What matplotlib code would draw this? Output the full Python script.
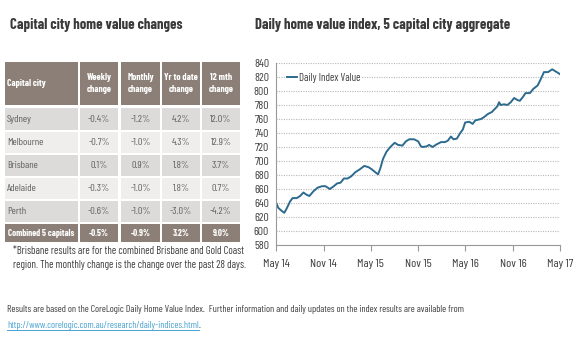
import matplotlib
matplotlib.use("Agg")
import matplotlib.pyplot as plt
from matplotlib.patches import Rectangle
from matplotlib import font_manager
import datetime as dt

# ---------------- data ----------------
table_cols = ["Capital city", "Weekly\nchange", "Monthly\nchange", "Yr to date\nchange", "12 mth\nchange"]
cities = ["Sydney", "Melbourne", "Brisbane", "Adelaide", "Perth"]
weekly = ["-0.4%", "-0.7%", "0.1%", "-0.3%", "-0.6%"]
monthly = ["-1.2%", "-1.0%", "0.9%", "-1.0%", "-1.0%"]
ytd = ["4.2%", "4.3%", "1.8%", "1.8%", "-3.0%"]
twelve = ["12.0%", "12.9%", "3.7%", "0.7%", "-4.2%"]
combined = ["Combined 5 capitals", "-0.5%", "-0.9%", "3.2%", "9.0%"]

dates = ["2014-05-01", "2014-05-10", "2014-05-22", "2014-06-02", "2014-06-11", "2014-06-24",
         "2014-07-04", "2014-07-20", "2014-08-02", "2014-08-15", "2014-08-26", "2014-09-07",
         "2014-09-23", "2014-10-09", "2014-10-26", "2014-11-08", "2014-11-25", "2014-12-10",
         "2014-12-23", "2015-01-05", "2015-01-18", "2015-02-01", "2015-02-15", "2015-03-03",
         "2015-03-20", "2015-04-07", "2015-04-24", "2015-05-06", "2015-05-19", "2015-05-30",
         "2015-06-08", "2015-06-18", "2015-07-01", "2015-07-16", "2015-08-02", "2015-08-15",
         "2015-09-01", "2015-09-14", "2015-09-27", "2015-10-16", "2015-11-01", "2015-11-11",
         "2015-11-19", "2015-12-04", "2015-12-13", "2015-12-26", "2016-01-12", "2016-01-28",
         "2016-02-12", "2016-02-23", "2016-03-06", "2016-03-16", "2016-03-29", "2016-04-11",
         "2016-04-21", "2016-04-30", "2016-05-16", "2016-05-29", "2016-06-08", "2016-06-30",
         "2016-07-13", "2016-07-26", "2016-08-11", "2016-08-24", "2016-09-01", "2016-09-08",
         "2016-09-14", "2016-09-27", "2016-10-10", "2016-10-23", "2016-11-05", "2016-11-18",
         "2016-11-27", "2016-12-10", "2016-12-19", "2017-01-05", "2017-01-18", "2017-02-04",
         "2017-02-17", "2017-02-28", "2017-03-16", "2017-04-01", "2017-04-14", "2017-04-23",
         "2017-05-01"]
index_values = [641, 633, 629, 626, 632, 642,
                647, 647, 650, 655, 652, 650,
                657, 662, 664, 664, 660, 664,
                668, 669, 675, 675, 678, 684,
                688, 693, 691, 688, 684, 681,
                690, 703, 713, 720, 726, 723,
                722, 728, 731, 731, 728, 721,
                720, 721, 723, 720, 724, 727,
                727, 729, 735, 731, 732, 740,
                745, 755, 756, 753, 758, 760,
                763, 767, 770, 775, 778, 784,
                780, 781, 780, 784, 790, 787,
                786, 792, 797, 797, 803, 808,
                818, 827, 827, 831, 828, 826,
                824]
xtick_dates = ["2014-05-01", "2014-11-01", "2015-05-01", "2015-11-01", "2016-05-01", "2016-11-01", "2017-05-01"]
xtick_labels = ["May 14", "Nov 14", "May 15", "Nov 15", "May 16", "Nov 16", "May 17"]
yticks = list(range(580, 841, 20))

left_title = "Capital city home value changes"
right_title = "Daily home value index, 5 capital city aggregate"
legend_label = "Daily Index Value"
footnote = ["*Brisbane results are for the combined Brisbane and Gold Coast",
            "region. The monthly change is the change over the past 28 days."]
bottom_text = "Results are based on the CoreLogic Daily Home Value Index.  Further information and daily updates on the index results are available from"
link_text = "http://www.corelogic.com.au/research/daily-indices.html"

# ---------------- fonts ----------------
names = {f.name for f in font_manager.fontManager.ttflist}
FAM = "Liberation Sans"
for cand in ["Barlow Condensed", "Roboto Condensed", "Archivo Narrow", "Asap Condensed"]:
    if cand in names:
        FAM = cand
        break
plt.rcParams["font.family"] = [FAM, "DejaVu Sans"]

W, H = 580, 352
fig = plt.figure(figsize=(W / 100, H / 100), dpi=100)
fig.patch.set_facecolor("white")
renderer = fig.canvas.get_renderer()


def fit(t, target):
    """scale the font of text t so that its rendered width is target px; return size"""
    w = t.get_window_extent(renderer).width
    s = t.get_fontsize() * target / w
    t.set_fontsize(s)
    return s


ov = fig.add_axes([0, 0, 1, 1])
ov.set_xlim(0, W)
ov.set_ylim(H, 0)
ov.axis("off")

TXT = "#3f3f3f"
t = ov.text(10, 25, left_title, fontsize=12, fontweight="bold", color="#3a3a3a", va="center", ha="left")
fit(t, 172)
t = ov.text(255, 25, right_title, fontsize=12, fontweight="bold", color="#3a3a3a", va="center", ha="left")
fit(t, 254)

col_x = [(5, 78), (80, 118), (121, 160), (162, 200), (202, 240)]
header_y = (62, 105)
row_y = [(108, 130), (132, 153), (155, 176), (178, 199), (201, 222)]
comb_y = (224, 242)
HDR = "#8b7f77"
row_bg = ["#dddbda", "#efeeed", "#dddbda", "#efeeed", "#dddbda"]

probe = ov.text(0, -50, "Yr to date", fontsize=8, fontweight="bold")
hdr_size = fit(probe, 34)
probe.set_text("Sydney"); probe.set_fontweight("normal"); probe.set_fontsize(8)
cell_size = fit(probe, 25)
probe.set_text("Combined 5 capitals"); probe.set_fontweight("bold"); probe.set_fontsize(8)
comb_size = fit(probe, 67)
probe.remove()

for ci, (x0, x1) in enumerate(col_x):
    ov.add_patch(Rectangle((x0, header_y[0]), x1 - x0, header_y[1] - header_y[0], color=HDR, lw=0))
    ha = "left" if ci == 0 else "center"
    tx = x0 + 2 if ci == 0 else (x0 + x1) / 2
    ov.text(tx, (header_y[0] + header_y[1]) / 2, table_cols[ci], color="white", fontsize=hdr_size,
            fontweight="bold", ha=ha, va="center", linespacing=1.3)

cols_data = [cities, weekly, monthly, ytd, twelve]
for ri, (y0, y1) in enumerate(row_y):
    for ci, (x0, x1) in enumerate(col_x):
        ov.add_patch(Rectangle((x0, y0), x1 - x0, y1 - y0, color=row_bg[ri], lw=0))
        ha = "left" if ci == 0 else "center"
        tx = x0 + 2 if ci == 0 else (x0 + x1) / 2
        ov.text(tx, (y0 + y1) / 2, cols_data[ci][ri], color="#606060", fontsize=cell_size,
                ha=ha, va="center")

for ci, (x0, x1) in enumerate(col_x):
    ov.add_patch(Rectangle((x0, comb_y[0]), x1 - x0, comb_y[1] - comb_y[0], color=HDR, lw=0))
    ha = "left" if ci == 0 else "center"
    tx = x0 + 3 if ci == 0 else (x0 + x1) / 2
    ov.text(tx, (comb_y[0] + comb_y[1]) / 2, combined[ci], color="white", fontsize=comb_size,
            fontweight="bold", ha=ha, va="center")

t1 = ov.text(13, 251, footnote[0], fontsize=8.5, color=TXT, ha="left", va="center")
fs_foot = fit(t1, 233)
ov.text(13, 265, footnote[1], fontsize=fs_foot, color=TXT, ha="left", va="center")
tb = ov.text(7, 309, bottom_text, fontsize=8, color=TXT, ha="left", va="center")
fs_bot = fit(tb, 457)
lk = ov.text(7, 325, link_text, fontsize=fs_bot, color="#4aa3d0", ha="left", va="center")
bb = lk.get_window_extent(renderer).transformed(ov.transData.inverted())
ov.plot([bb.x0, bb.x1], [330, 330], color="#4aa3d0", lw=0.7)
ov.text(bb.x1, 325, ".", fontsize=fs_bot, color=TXT, ha="left", va="center")

probe = ov.text(0, -50, "May 14", fontsize=9)
xt_size = fit(probe, 27)
probe.set_text("840"); probe.set_fontsize(9)
yt_size = fit(probe, 15)
probe.set_text(legend_label); probe.set_fontsize(9)
lg_size = fit(probe, 62)
probe.remove()

# ---------------- line chart ----------------
ax = fig.add_axes([276 / W, 1 - 245 / H, (560 - 276) / W, (245 - 63) / H])
x = [dt.datetime.strptime(d, "%Y-%m-%d") for d in dates]
xt = [dt.datetime.strptime(d, "%Y-%m-%d") for d in xtick_dates]
ax.plot(x, index_values, color="#2d6a8e", lw=1.4, label=legend_label)
ax.set_xlim(xt[0], xt[-1])
ax.set_ylim(580, 840)
ax.set_yticks(yticks)
ax.set_yticklabels([str(v) for v in yticks])
ax.set_xticks(xt)
ax.set_xticklabels(xtick_labels)
ax.yaxis.grid(True, color="#b8b8b8", linestyle=(0, (1, 1.2)), lw=0.8)
ax.set_axisbelow(True)
for s in ["top", "right"]:
    ax.spines[s].set_visible(False)
ax.spines["left"].set_color("#999999")
ax.spines["bottom"].set_color("#999999")
ax.tick_params(axis="y", length=0, pad=5, labelsize=yt_size, labelcolor="#404040")
ax.tick_params(axis="x", length=4, color="#999999", pad=6, labelsize=xt_size, labelcolor="#404040")
leg = ax.legend(loc="upper left", frameon=True, fontsize=lg_size, handlelength=0.9, handletextpad=0.15,
                borderpad=0.15, bbox_to_anchor=(0.015, 0.985), labelcolor="#404040")
leg.get_frame().set_edgecolor("none")
leg.get_frame().set_facecolor("white")
leg.get_frame().set_alpha(1)

fig.savefig("out.png", dpi=100, facecolor="white")
